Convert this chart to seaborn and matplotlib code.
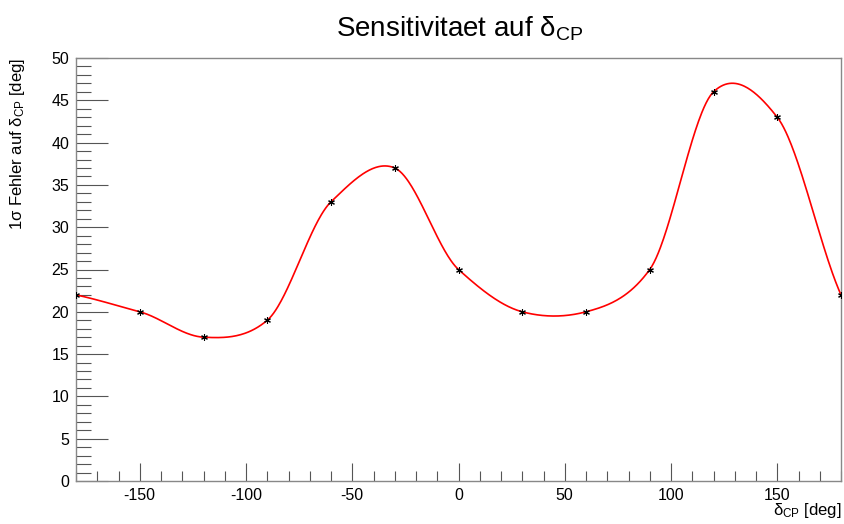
import numpy as np
import pandas as pd
import matplotlib
matplotlib.use("Agg")
import matplotlib.pyplot as plt
import seaborn as sns
from matplotlib.ticker import MultipleLocator

delta_cp = [-180, -150, -120, -90, -60, -30, 0, 30, 60, 90, 120, 150, 180]
sigma_err = [22, 20, 17, 19, 33, 37, 25, 20, 20, 25, 46, 43, 22]

sns.set_theme(style="white")
plt.rcParams['font.family'] = ['Liberation Sans', 'DejaVu Sans']
plt.rcParams['mathtext.fontset'] = 'custom'
plt.rcParams['mathtext.rm'] = 'Liberation Sans'
plt.rcParams['mathtext.it'] = 'Liberation Sans'
plt.rcParams['axes.unicode_minus'] = False
plt.rcParams['text.color'] = 'black'
plt.rcParams['axes.labelcolor'] = 'black'


def smooth_curve(x, y, n_per_seg=60, tension=0.8):
    """Cardinal (Hermite) smoothing through the given points, as ROOT's 'C' option draws."""
    x = np.asarray(x, float); y = np.asarray(y, float)
    n = len(x)
    m = np.zeros(n)
    m[1:-1] = (y[2:] - y[:-2]) / (x[2:] - x[:-2])
    m[0] = (y[1] - y[0]) / (x[1] - x[0])
    m[-1] = (y[-1] - y[-2]) / (x[-1] - x[-2])
    m *= tension
    xs_all, ys_all = [], []
    for i in range(n - 1):
        h = x[i + 1] - x[i]
        s = np.linspace(0, 1, n_per_seg, endpoint=(i == n - 2))
        h00 = 2 * s**3 - 3 * s**2 + 1
        h10 = s**3 - 2 * s**2 + s
        h01 = -2 * s**3 + 3 * s**2
        h11 = s**3 - s**2
        xs_all.append(x[i] + s * h)
        ys_all.append(h00 * y[i] + h10 * h * m[i] + h01 * y[i + 1] + h11 * h * m[i + 1])
    return np.concatenate(xs_all), np.concatenate(ys_all)


cx, cy = smooth_curve(delta_cp, sigma_err)
curve = pd.DataFrame({"x": cx, "y": cy})
pts = pd.DataFrame({"x": delta_cp, "y": sigma_err})

fig = plt.figure(figsize=(8.44, 5.24), dpi=100)
ax = fig.add_axes([76 / 844, 1 - 481 / 524, (841 - 76) / 844, (481 - 58) / 524])

sns.lineplot(data=curve, x="x", y="y", ax=ax, color="red", linewidth=1.2, sort=False,
             estimator=None)
sns.scatterplot(data=pts, x="x", y="y", ax=ax, marker=(6, 2, 0), color="black",
                s=18, linewidth=0.8, edgecolor="black", zorder=5)

ax.set_xlim(-180, 180)
ax.set_ylim(0, 50)
ax.xaxis.set_major_locator(MultipleLocator(50))
ax.xaxis.set_minor_locator(MultipleLocator(10))
ax.yaxis.set_major_locator(MultipleLocator(5))
ax.yaxis.set_minor_locator(MultipleLocator(1))
ax.tick_params(which="both", direction="in", top=False, right=False, bottom=True, left=True,
               colors="#555555", labelcolor="black", labelsize=11.5, width=0.8)
ax.tick_params(axis="x", which="major", length=13, pad=5)
ax.tick_params(axis="x", which="minor", length=7)
ax.tick_params(axis="y", which="major", length=23, pad=5)
ax.tick_params(axis="y", which="minor", length=11)
for s in ax.spines.values():
    s.set_color("#888888")
    s.set_linewidth(1.0)

ax.set_xlabel(r"$\mathregular{\delta_{CP}}$ [deg]", loc="right", fontsize=12, color="black")
ax.xaxis.set_label_coords(1.0, -(501 - 481) / 423)
ax.set_ylabel(r"1$\mathregular{\sigma}$ Fehler auf $\mathregular{\delta_{CP}}$ [deg]", loc="top",
              fontsize=12, color="black")
ax.yaxis.set_label_coords(-(76 - 27) / 765, 1.0)
fig.text(0.545, 1 - 29 / 524, r"Sensitivitaet auf $\mathregular{\delta_{CP}}$", ha="center",
         va="center", fontsize=20, color="black")

fig.savefig("out.png", dpi=100)
